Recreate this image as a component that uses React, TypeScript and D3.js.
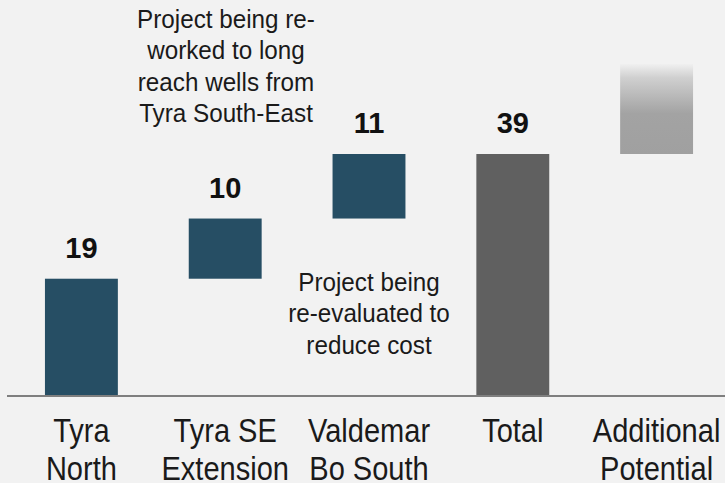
import React from "react";
import * as d3 from "d3";

const categories = ["Tyra North", "Tyra SE Extension", "Valdemar Bo South", "Total", "Additional Potential"];
const categoryLines = [["Tyra", "North"], ["Tyra SE", "Extension"], ["Valdemar", "Bo South"], ["Total"], ["Additional", "Potential"]];
const increments = [18.9, 9.7, 10.4];
const totalValue = 39;
const additionalTop = 53.5;
const valueLabels = ["19", "10", "11", "39"];
const note1 = ["Project being re-", "worked to long", "reach wells from", "Tyra South-East"];
const note2 = ["Project being", "re-evaluated to", "reduce cost"];

const W = 725, H = 483;
const baseY = 396;

function Narrow({ cx, lines, y0, dy, size, sx }: { cx: number; lines: string[]; y0: number; dy: number; size: number; sx: number }) {
  return (
    <g transform={`translate(${cx},0) scale(${sx},1)`}>
      <text textAnchor="middle" fontFamily="'Liberation Sans', Arial, sans-serif" fontSize={size} fill="#1a1a1a">
        {lines.map((l, j) => (
          <tspan key={j} x={0} y={y0 + j * dy}>{l}</tspan>
        ))}
      </text>
    </g>
  );
}

export default function App() {
  const x = d3.scaleBand<string>().domain(categories).range([9, 729]).paddingInner(0.493).paddingOuter(0.25);
  const y = d3.scaleLinear().domain([0, 39]).range([baseY, 154]);
  const bw = x.bandwidth();

  let cum = 0;
  const steps = increments.map((v, i) => {
    const s = { name: categories[i], start: cum, end: cum + v, label: valueLabels[i] };
    cum += v;
    return s;
  });

  return (
    <svg width={W} height={H} style={{ position: "absolute", left: 0, top: 0, background: "#f2f2f2" }}>
      <defs>
        <linearGradient id="addGrad" x1="0" y1="1" x2="0" y2="0">
          <stop offset="0%" stopColor="#a0a0a0" />
          <stop offset="45%" stopColor="#a3a3a3" />
          <stop offset="85%" stopColor="#d0d0d0" />
          <stop offset="100%" stopColor="#f0f0f0" />
        </linearGradient>
      </defs>
      <rect width={W} height={H} fill="#f2f2f2" />
      {steps.map((s) => (
        <g key={s.name}>
          <rect x={x(s.name)} y={y(s.end)} width={bw} height={y(s.start) - y(s.end)} fill="#264e64" />
          <text x={x(s.name)! + bw / 2} y={y(s.end) - 21} textAnchor="middle" fontFamily="'Liberation Sans', Arial, sans-serif" fontWeight="bold" fontSize={29} fill="#111">{s.label}</text>
        </g>
      ))}
      <rect x={x("Total")} y={y(totalValue)} width={bw} height={y(0) - y(totalValue)} fill="#606060" />
      <text x={x("Total")! + bw / 2} y={y(totalValue) - 21} textAnchor="middle" fontFamily="'Liberation Sans', Arial, sans-serif" fontWeight="bold" fontSize={29} fill="#111">{valueLabels[3]}</text>
      <rect x={x("Additional Potential")} y={y(additionalTop)} width={bw} height={y(totalValue) - y(additionalTop)} fill="url(#addGrad)" />
      <line x1={7} x2={W} y1={baseY} y2={baseY} stroke="#7f7f7f" strokeWidth={2} />
      {categories.map((c, i) => (
        <Narrow key={c} cx={x(c)! + bw / 2} lines={categoryLines[i]} y0={442} dy={38} size={33} sx={0.88} />
      ))}
      <Narrow cx={226} lines={note1} y0={28} dy={31.5} size={25} sx={0.97} />
      <Narrow cx={369} lines={note2} y0={291} dy={31.5} size={25} sx={0.97} />
    </svg>
  );
}
